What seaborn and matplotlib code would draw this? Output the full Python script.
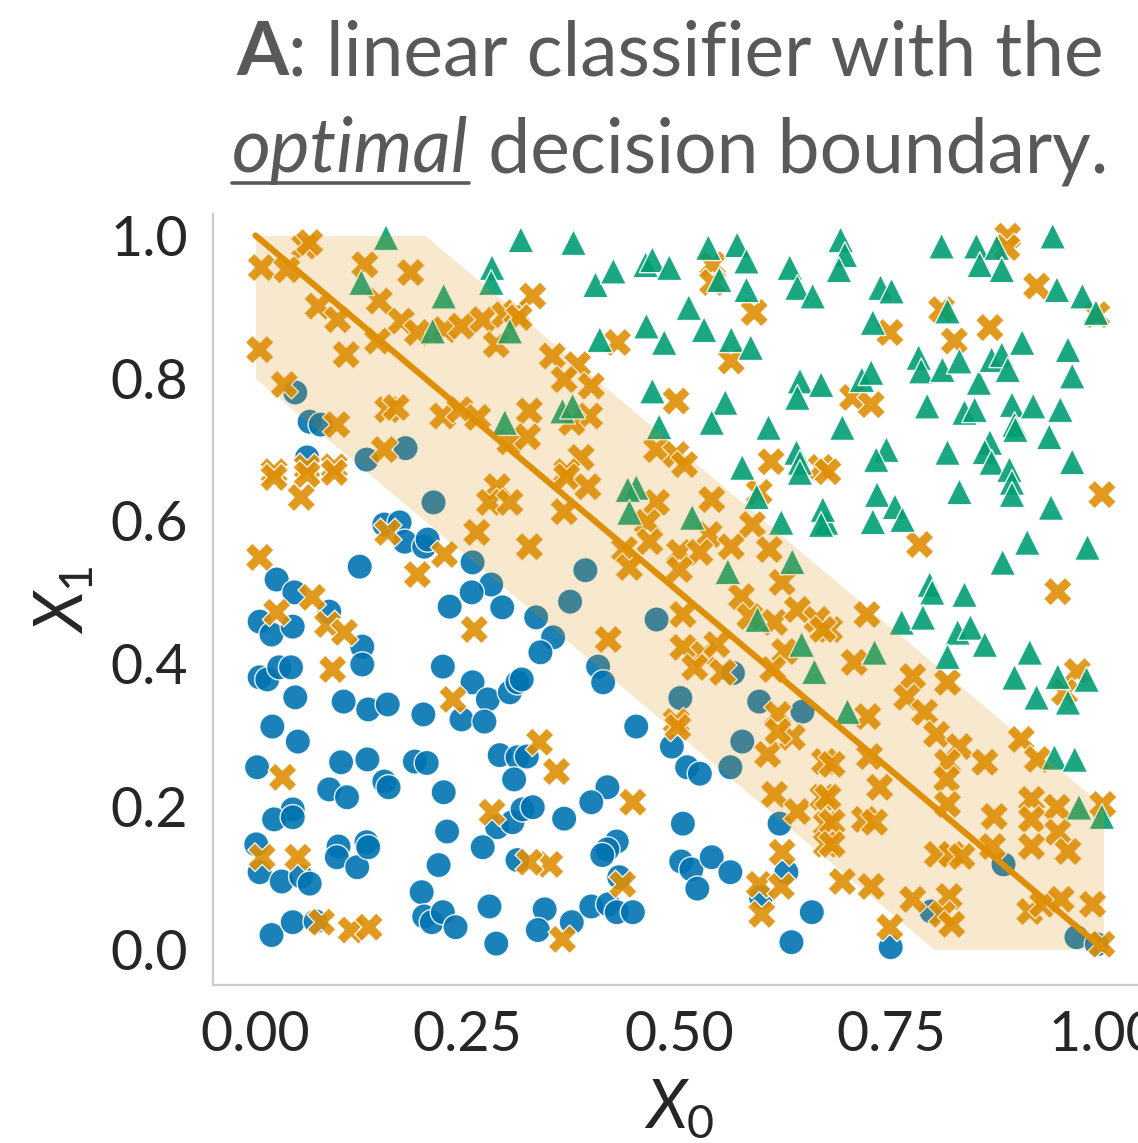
import numpy as np
import pandas as pd
import seaborn as sns
import matplotlib.pyplot as plt
from matplotlib.lines import Line2D

# ---------------- data (X0, X1) ----------------
blue_points = [
    (0.047, 0.780), (0.064, 0.739), (0.077, 0.735), (0.061, 0.689), (0.131, 0.686), (0.177, 0.702),
    (0.210, 0.626), (0.152, 0.595), (0.170, 0.598), (0.176, 0.571), (0.199, 0.564), (0.203, 0.574),
    (0.123, 0.536), (0.256, 0.542), (0.278, 0.511), (0.255, 0.500), (0.229, 0.480), (0.291, 0.479),
    (0.025, 0.518), (0.046, 0.500), (0.087, 0.473), (0.005, 0.459), (0.019, 0.441), (0.044, 0.452),
    (0.126, 0.424), (0.126, 0.399), (0.005, 0.381), (0.014, 0.378), (0.028, 0.395), (0.042, 0.395),
    (0.047, 0.353), (0.104, 0.347), (0.133, 0.336), (0.156, 0.343), (0.198, 0.329), (0.221, 0.396),
    (0.256, 0.374), (0.274, 0.350), (0.243, 0.322), (0.270, 0.319), (0.300, 0.360), (0.309, 0.374),
    (0.314, 0.378), (0.020, 0.312), (0.389, 0.531), (0.371, 0.487), (0.473, 0.462), (0.331, 0.465),
    (0.351, 0.437), (0.336, 0.416), (0.404, 0.396), (0.410, 0.374), (0.563, 0.387), (0.501, 0.352),
    (0.594, 0.347), (0.645, 0.333), (0.449, 0.312), (0.050, 0.291), (0.002, 0.255), (0.101, 0.262),
    (0.132, 0.266), (0.087, 0.224), (0.108, 0.213), (0.152, 0.235), (0.157, 0.227), (0.188, 0.263),
    (0.202, 0.261), (0.222, 0.220), (0.288, 0.272), (0.309, 0.269), (0.305, 0.238), (0.226, 0.165),
    (0.044, 0.196), (0.022, 0.182), (0.044, 0.185), (0.001, 0.147), (0.005, 0.108), (0.031, 0.095),
    (0.054, 0.102), (0.064, 0.092), (0.098, 0.144), (0.096, 0.129), (0.120, 0.115), (0.131, 0.150),
    (0.133, 0.143), (0.216, 0.118), (0.285, 0.171), (0.303, 0.178), (0.268, 0.143), (0.315, 0.196),
    (0.309, 0.125), (0.196, 0.080), (0.199, 0.046), (0.208, 0.038), (0.221, 0.052), (0.236, 0.031),
    (0.276, 0.060), (0.284, 0.008), (0.019, 0.020), (0.044, 0.038), (0.071, 0.039), (0.491, 0.284),
    (0.509, 0.255), (0.524, 0.246), (0.560, 0.255), (0.574, 0.291), (0.320, 0.270), (0.415, 0.227),
    (0.396, 0.206), (0.327, 0.199), (0.364, 0.183), (0.504, 0.176), (0.618, 0.176), (0.426, 0.151),
    (0.415, 0.140), (0.409, 0.132), (0.502, 0.123), (0.514, 0.112), (0.538, 0.129), (0.560, 0.108),
    (0.521, 0.085), (0.429, 0.101), (0.626, 0.108), (0.596, 0.073), (0.656, 0.052), (0.632, 0.010),
    (0.341, 0.056), (0.333, 0.027), (0.373, 0.038), (0.396, 0.060), (0.416, 0.063), (0.426, 0.052),
    (0.445, 0.052), (0.882, 0.119), (0.797, 0.053), (0.749, 0.003), (0.968, 0.017), (0.992, 0.007),
]

orange_points = [
    (0.058, 0.985), (0.064, 0.990), (0.007, 0.955), (0.037, 0.952), (0.129, 0.959), (0.183, 0.948),
    (0.074, 0.901), (0.097, 0.882), (0.146, 0.908), (0.172, 0.880), (0.191, 0.864), (0.223, 0.868),
    (0.243, 0.873), (0.268, 0.882), (0.294, 0.889), (0.308, 0.892), (0.144, 0.852), (0.005, 0.840),
    (0.107, 0.833), (0.284, 0.847), (0.034, 0.791), (0.156, 0.756), (0.166, 0.759), (0.221, 0.747),
    (0.241, 0.756), (0.262, 0.745), (0.300, 0.711), (0.152, 0.700), (0.022, 0.669), (0.061, 0.675),
    (0.093, 0.676), (0.096, 0.735), (0.327, 0.915), (0.311, 0.885), (0.427, 0.850), (0.539, 0.959),
    (0.539, 0.934), (0.588, 0.892), (0.561, 0.824), (0.496, 0.768), (0.350, 0.831), (0.380, 0.819),
    (0.364, 0.798), (0.396, 0.789), (0.323, 0.754), (0.394, 0.747), (0.373, 0.738), (0.321, 0.718),
    (0.384, 0.689), (0.367, 0.669), (0.473, 0.700), (0.496, 0.693), (0.506, 0.679), (0.608, 0.683),
    (0.667, 0.675), (0.887, 0.999), (0.886, 0.983), (0.921, 0.929), (0.809, 0.896), (0.748, 0.864),
    (0.824, 0.852), (0.866, 0.871), (0.992, 0.889), (0.704, 0.773), (0.726, 0.763), (0.675, 0.669),
    (0.998, 0.637), (0.783, 0.567), (0.946, 0.501), (0.721, 0.469), (0.677, 0.448), (0.706, 0.402),
    (0.775, 0.382), (0.816, 0.374), (0.768, 0.353), (0.789, 0.332), (0.722, 0.326), (0.969, 0.389),
    (0.954, 0.360), (0.367, 0.662), (0.392, 0.648), (0.364, 0.613), (0.323, 0.564), (0.473, 0.626),
    (0.538, 0.630), (0.594, 0.640), (0.462, 0.598), (0.465, 0.571), (0.435, 0.560), (0.441, 0.535),
    (0.535, 0.581), (0.500, 0.556), (0.524, 0.556), (0.500, 0.532), (0.561, 0.564), (0.586, 0.595),
    (0.606, 0.560), (0.621, 0.514), (0.573, 0.494), (0.583, 0.466), (0.612, 0.458), (0.639, 0.476),
    (0.662, 0.462), (0.669, 0.448), (0.504, 0.469), (0.416, 0.434), (0.504, 0.423), (0.529, 0.413),
    (0.544, 0.427), (0.518, 0.395), (0.551, 0.388), (0.624, 0.417), (0.610, 0.392), (0.496, 0.319),
    (0.616, 0.329), (0.498, 0.311), (0.335, 0.290), (0.355, 0.249), (0.445, 0.206), (0.347, 0.119),
    (0.323, 0.122), (0.433, 0.091), (0.594, 0.091), (0.620, 0.088), (0.597, 0.049), (0.621, 0.136),
    (0.362, 0.014), (0.612, 0.217), (0.639, 0.193), (0.604, 0.273), (0.633, 0.297), (0.616, 0.305),
    (0.671, 0.263), (0.669, 0.213), (0.673, 0.175), (0.673, 0.147), (0.803, 0.301), (0.830, 0.284),
    (0.903, 0.294), (0.922, 0.266), (0.680, 0.259), (0.724, 0.270), (0.816, 0.262), (0.860, 0.262),
    (0.815, 0.238), (0.736, 0.227), (0.675, 0.213), (0.816, 0.203), (0.915, 0.210), (0.945, 0.199),
    (0.999, 0.203), (0.871, 0.186), (0.680, 0.178), (0.718, 0.182), (0.730, 0.178), (0.915, 0.182),
    (0.946, 0.164), (0.680, 0.147), (0.915, 0.144), (0.958, 0.137), (0.804, 0.133), (0.821, 0.133),
    (0.833, 0.130), (0.869, 0.144), (0.692, 0.095), (0.726, 0.088), (0.775, 0.070), (0.818, 0.074),
    (0.810, 0.049), (0.821, 0.035), (0.913, 0.053), (0.928, 0.063), (0.950, 0.070), (0.987, 0.063),
    (0.748, 0.031), (0.998, 0.007), (0.022, 0.661), (0.061, 0.665), (0.093, 0.668), (0.054, 0.633),
    (0.285, 0.648), (0.276, 0.626), (0.300, 0.626), (0.261, 0.584), (0.156, 0.584), (0.223, 0.553),
    (0.191, 0.525), (0.005, 0.549), (0.067, 0.493), (0.025, 0.472), (0.085, 0.455), (0.105, 0.444),
    (0.091, 0.392), (0.258, 0.448), (0.233, 0.350), (0.032, 0.241), (0.279, 0.192), (0.008, 0.129),
    (0.050, 0.129), (0.078, 0.038), (0.113, 0.027), (0.134, 0.031),
]

green_points = [
    (0.154, 0.997), (0.125, 0.934), (0.222, 0.915), (0.279, 0.955), (0.278, 0.934), (0.313, 0.994),
    (0.209, 0.866), (0.300, 0.866), (0.294, 0.738), (0.375, 0.990), (0.401, 0.931), (0.422, 0.950),
    (0.460, 0.959), (0.468, 0.966), (0.488, 0.955), (0.534, 0.983), (0.568, 0.987), (0.579, 0.964),
    (0.547, 0.938), (0.579, 0.924), (0.630, 0.955), (0.639, 0.927), (0.657, 0.915), (0.511, 0.899),
    (0.529, 0.868), (0.461, 0.873), (0.482, 0.850), (0.406, 0.854), (0.561, 0.854), (0.584, 0.843),
    (0.468, 0.782), (0.554, 0.766), (0.538, 0.738), (0.642, 0.796), (0.667, 0.791), (0.639, 0.773),
    (0.605, 0.731), (0.476, 0.732), (0.362, 0.754), (0.374, 0.761), (0.574, 0.675), (0.638, 0.696),
    (0.642, 0.682), (0.690, 0.994), (0.695, 0.973), (0.688, 0.952), (0.737, 0.927), (0.750, 0.922),
    (0.809, 0.985), (0.850, 0.985), (0.874, 0.983), (0.854, 0.959), (0.880, 0.952), (0.940, 0.999),
    (0.945, 0.924), (0.975, 0.915), (0.991, 0.892), (0.816, 0.894), (0.728, 0.878), (0.904, 0.850),
    (0.958, 0.840), (0.963, 0.803), (0.782, 0.829), (0.785, 0.810), (0.810, 0.812), (0.830, 0.824),
    (0.853, 0.794), (0.868, 0.826), (0.880, 0.833), (0.887, 0.812), (0.715, 0.798), (0.726, 0.808),
    (0.692, 0.731), (0.792, 0.761), (0.836, 0.752), (0.848, 0.756), (0.892, 0.763), (0.917, 0.761),
    (0.949, 0.756), (0.895, 0.735), (0.896, 0.728), (0.936, 0.718), (0.816, 0.696), (0.866, 0.710),
    (0.860, 0.697), (0.868, 0.682), (0.744, 0.700), (0.732, 0.686), (0.963, 0.683), (0.889, 0.672),
    (0.733, 0.637), (0.754, 0.620), (0.728, 0.599), (0.763, 0.602), (0.673, 0.598), (0.830, 0.641),
    (0.892, 0.654), (0.892, 0.637), (0.938, 0.619), (0.910, 0.570), (0.881, 0.542), (0.981, 0.563),
    (0.795, 0.511), (0.798, 0.500), (0.836, 0.497), (0.762, 0.458), (0.787, 0.465), (0.828, 0.444),
    (0.843, 0.451), (0.860, 0.427), (0.816, 0.410), (0.730, 0.416), (0.913, 0.416), (0.895, 0.381),
    (0.946, 0.382), (0.980, 0.378), (0.921, 0.353), (0.958, 0.346), (0.698, 0.333), (0.449, 0.647),
    (0.439, 0.644), (0.441, 0.612), (0.515, 0.605), (0.557, 0.529), (0.633, 0.543), (0.620, 0.598),
    (0.669, 0.616), (0.667, 0.595), (0.644, 0.427), (0.659, 0.389), (0.592, 0.462), (0.591, 0.634),
    (0.642, 0.668), (0.942, 0.269), (0.966, 0.266), (0.971, 0.199), (0.998, 0.186),
]

classes = ["blue", "orange", "green"]
class_colors = {"blue": "#0173B2", "orange": "#DE8F05", "green": "#029E73"}
class_markers = {"blue": "o", "orange": "X", "green": "^"}
class_sizes = {"blue": 330, "orange": 430, "green": 350}

# shaded margin band around the optimal boundary x0 + x1 = 1
band_x = [0.0, 0.2, 0.8, 1.0]
band_lower = [0.8, 0.6, 0.0, 0.0]
band_upper = [1.0, 1.0, 0.4, 0.2]
boundary_x = [0.0, 1.0]
boundary_y = [1.0, 0.0]

x_ticks = [0.0, 0.25, 0.5, 0.75, 1.0]
x_tick_labels = ["0.00", "0.25", "0.50", "0.75", "1.00"]
y_ticks = [0.0, 0.2, 0.4, 0.6, 0.8, 1.0]
y_tick_labels = ["0.0", "0.2", "0.4", "0.6", "0.8", "1.0"]

# ---------------- build frame ----------------
rows = []
for name, pts in zip(classes, [blue_points, orange_points, green_points]):
    for x0, x1 in pts:
        rows.append({"X0": x0, "X1": x1, "cls": name})
df = pd.DataFrame(rows)

# ---------------- style ----------------
sns.set_theme(style="white")
plt.rcParams["font.family"] = ["Lato", "DejaVu Sans"]
plt.rcParams["mathtext.fontset"] = "custom"
plt.rcParams["mathtext.rm"] = "Lato"
plt.rcParams["mathtext.it"] = "Lato:italic"
plt.rcParams["mathtext.bf"] = "Lato:bold"

W, H = 1138, 1143
fig = plt.figure(figsize=(W / 100, H / 100), dpi=100)
ax = fig.add_axes([213 / W, 158 / H, 933 / W, 771 / H])

sns.scatterplot(
    data=df, x="X0", y="X1", hue="cls", style="cls", size="cls",
    hue_order=classes, style_order=classes, size_order=classes,
    palette=class_colors, markers=class_markers, sizes=class_sizes,
    alpha=0.9, edgecolor="white", linewidth=1.0,
    legend=False, ax=ax, zorder=2,
)

orange = class_colors["orange"]
ax.fill_between(band_x, band_lower, band_upper, color=orange, alpha=0.2,
                linewidth=0, zorder=3)
ax.plot(boundary_x, boundary_y, color=orange, lw=4.4, solid_capstyle="round", zorder=4)

ax.set_xlim(-0.05, 1.05)
ax.set_ylim(-0.05, 1.03)
ax.set_xticks(x_ticks)
ax.set_xticklabels(x_tick_labels)
ax.set_yticks(y_ticks)
ax.set_yticklabels(y_tick_labels)
ax.tick_params(axis="both", labelsize=40, colors="#262626", length=0)
ax.tick_params(axis="x", pad=18)
ax.tick_params(axis="y", pad=18)

for side in ["top", "right"]:
    ax.spines[side].set_visible(False)
for side in ["left", "bottom"]:
    ax.spines[side].set_color("#cccccc")
    ax.spines[side].set_linewidth(1.6)

ax.set_xlabel(r"$X_0$", fontsize=48, color="#262626", labelpad=12)
ax.set_ylabel(r"$X_1$", fontsize=48, color="#262626", labelpad=10)

# ---------------- title (bold "A", italic underlined "optimal") ----------------
title_color = "#595959"
tfs = 54
fig.canvas.draw()
rend = fig.canvas.get_renderer()

def text_width(t):
    return t.get_window_extent(rend).width

cx = 670 / W
y1 = (H - 75) / H
y2 = (H - 172) / H

ta = fig.text(0, y1, "A", fontsize=tfs, fontweight="bold", color=title_color, va="baseline")
tb = fig.text(0, y1, ": linear classifier with the", fontsize=tfs, color=title_color, va="baseline")
wa, wb = text_width(ta), text_width(tb)
start = cx * W - (wa + wb) / 2
ta.set_x(start / W)
tb.set_x((start + wa) / W)

tc = fig.text(0, y2, "optimal", fontsize=tfs, fontstyle="italic", color=title_color, va="baseline")
td = fig.text(0, y2, " decision boundary.", fontsize=tfs, color=title_color, va="baseline")
wc, wd = text_width(tc), text_width(td)
start2 = cx * W - (wc + wd) / 2
tc.set_x(start2 / W)
td.set_x((start2 + wc) / W)
uy = y2 - 11 / H
fig.add_artist(Line2D([start2 / W, (start2 + wc) / W], [uy, uy],
                      transform=fig.transFigure, color=title_color, lw=2.6))

fig.savefig("out.png", dpi=100)
